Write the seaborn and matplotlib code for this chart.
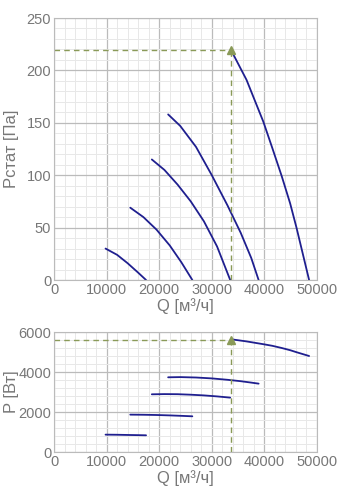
import matplotlib

matplotlib.use("Agg")
import matplotlib.pyplot as plt
import pandas as pd
import seaborn as sns
from matplotlib.ticker import MultipleLocator

# Характеристики вентилятора: Q [м³/ч] -> Pстат [Па] и P [Вт]
curve_ids = ["1", "2", "3", "4", "5"]
q_values = [
    [9800, 12000, 14000, 16000, 17500],
    [14500, 17000, 19500, 22000, 24200, 26300],
    [18600, 21000, 23500, 26000, 28500, 31000, 33500],
    [21700, 24000, 27000, 30000, 33000, 35500, 37500, 38900],
    [33700, 36600, 39800, 41500, 43300, 44900, 46100, 48500],
]
p_stat = [
    [30, 24, 16, 7, 0],
    [69, 60, 48, 33, 17, 0],
    [115, 105, 91, 75, 56, 32, 0],
    [158, 147, 127, 100, 71, 45, 21, 0],
    [219, 191, 151, 126, 99, 73, 50, 0],
]
p_power = [
    [868, 862, 852, 843, 835],
    [1868, 1862, 1850, 1830, 1808, 1785],
    [2885, 2895, 2890, 2865, 2830, 2780, 2718],
    [3735, 3745, 3725, 3680, 3610, 3540, 3470, 3418],
    [5635, 5530, 5390, 5310, 5200, 5090, 4990, 4800],
]
work_q = 33700
work_p_stat = 219
work_p_power = 5600

rows = []
for cid, qs, ps, pw in zip(curve_ids, q_values, p_stat, p_power):
    for q, p, w in zip(qs, ps, pw):
        rows.append({"curve": cid, "Q": q, "Pstat": p, "P": w})
df = pd.DataFrame(rows)

sns.set_style("white")
plt.rcParams["font.family"] = ["Liberation Sans", "DejaVu Sans"]

TEXT = "#777777"
LINE = "#1f1f8f"
MARK = "#8a9a58"

fig = plt.figure(figsize=(3.61, 5.0), dpi=100)
ax1 = fig.add_axes([0.1496, 0.44, 0.7285, 0.524])
ax2 = fig.add_axes([0.1496, 0.096, 0.7285, 0.24])


def style_axis(ax, ymax, ymajor, yminor, ylabel):
    ax.set_xlim(0, 50000)
    ax.set_ylim(0, ymax)
    ax.xaxis.set_major_locator(MultipleLocator(10000))
    ax.xaxis.set_minor_locator(MultipleLocator(2000))
    ax.yaxis.set_major_locator(MultipleLocator(ymajor))
    ax.yaxis.set_minor_locator(MultipleLocator(yminor))
    ax.grid(which="major", color="#bbbbbb", linewidth=0.9)
    ax.grid(which="minor", color="#e8e8e8", linewidth=0.7)
    ax.set_axisbelow(True)
    for s in ax.spines.values():
        s.set_color("#bbbbbb")
    ax.tick_params(which="both", length=0, labelsize=10.5, colors=TEXT, pad=2)
    ax.set_xlabel("Q [м³/ч]", fontsize=12, color=TEXT, labelpad=1)
    ax.set_ylabel(ylabel, fontsize=12, color=TEXT)
    ax.yaxis.set_label_coords(-0.135, 0.5)


for ax, col, work_y in [(ax1, "Pstat", work_p_stat), (ax2, "P", work_p_power)]:
    sns.lineplot(data=df, x="Q", y=col, units="curve", estimator=None,
                 sort=False, color=LINE, linewidth=1.3, ax=ax)
    ax.plot([0, work_q], [work_y, work_y], ls=(0, (4, 3)), color=MARK, lw=1)
    ax.plot([work_q, work_q], [0, work_y], ls=(0, (4, 3)), color=MARK, lw=1)
    ax.plot([work_q], [work_y], marker="^", color=MARK, markersize=6, zorder=5)

style_axis(ax1, 250, 50, 10, "Pстат [Па]")
style_axis(ax2, 6000, 2000, 400, "P [Вт]")

plt.savefig("out.png", dpi=100)
plt.close()
